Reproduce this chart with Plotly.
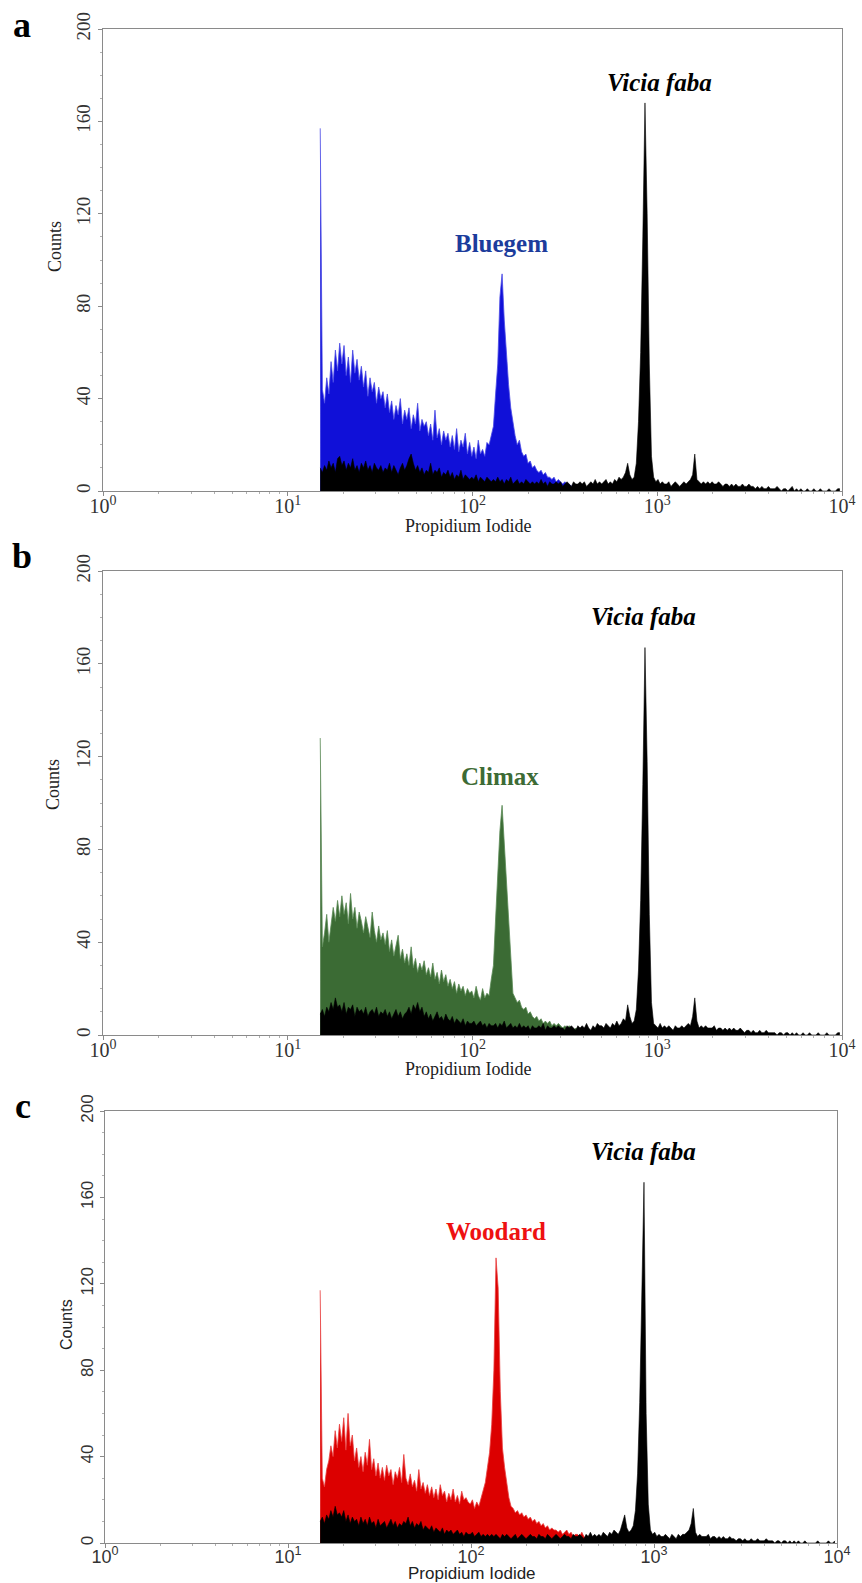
import plotly.graph_objects as go

# ---------------- data (flow-cytometry histograms, 1024-channel / 4-decade log scale) -------------
CH_COLOR = list(range(301, 698, 3))   # channels of sample histograms
CH_BLACK = list(range(301, 1022, 3))  # channels of Vicia faba standard histograms

BLUEGEM = [157, 44, 38, 49, 42, 56, 47, 61, 52, 64,
           55, 63, 50, 58, 47, 61, 51, 57, 48, 54,
           45, 52, 41, 49, 43, 47, 38, 45, 40, 43,
           36, 42, 34, 39, 31, 37, 33, 40, 29, 35,
           31, 36, 27, 33, 29, 38, 26, 31, 28, 30,
           24, 29, 22, 35, 23, 27, 20, 26, 22, 25,
           19, 24, 18, 27, 17, 22, 19, 25, 16, 21,
           15, 19, 14, 22, 16, 18, 15, 21, 20, 24,
           28, 42, 55, 84, 94, 74, 58, 46, 36, 29,
           24, 20, 22, 17, 15, 16, 12, 13, 10, 11,
           9, 8, 9, 7, 8, 6, 6, 5, 6, 4,
           5, 4, 3, 4, 3, 3, 2, 3, 2, 2,
           3, 2, 2, 1, 2, 1, 1, 1, 0, 1, 0, 0, 0]

CLIMAX = [128, 38, 44, 52, 40, 47, 55, 49, 58, 51,
          60, 52, 57, 48, 61, 50, 55, 46, 53, 49,
          44, 51, 47, 42, 53, 45, 40, 47, 41, 44,
          39, 45, 36, 41, 34, 38, 43, 33, 37, 31,
          35, 30, 38, 29, 33, 27, 31, 28, 32, 26,
          29, 25, 31, 24, 27, 22, 28, 23, 26, 21,
          24, 20, 23, 18, 22, 19, 21, 17, 20, 18,
          19, 16, 21, 17, 15, 20, 16, 18, 17, 24,
          30, 50, 72, 88, 99, 82, 68, 48, 30, 18,
          16, 14, 15, 12, 11, 12, 9, 10, 8, 7,
          8, 6, 7, 5, 6, 5, 6, 4, 5, 4,
          5, 4, 3, 4, 3, 4, 3, 2, 3, 2,
          3, 2, 2, 1, 2, 1, 1, 1, 0, 1, 0, 0, 0]

WOODARD = [117, 30, 26, 34, 38, 45, 40, 52, 44, 55,
           47, 58, 43, 60, 45, 50, 38, 44, 35, 40,
           33, 42, 36, 48, 34, 39, 31, 37, 30, 35,
           29, 36, 31, 34, 27, 33, 30, 35, 28, 41,
           30, 27, 32, 26, 29, 24, 34, 25, 28, 23,
           27, 22, 26, 21, 25, 20, 27, 22, 24, 19,
           23, 20, 25, 19, 22, 18, 24, 20, 21, 19,
           18, 20, 16, 19, 17, 21, 24, 28, 35, 42,
           55, 80, 132, 118, 70, 44, 35, 28, 21, 17,
           16, 14, 15, 13, 14, 12, 13, 11, 12, 10,
           11, 9, 10, 8, 9, 7, 8, 6, 7, 6,
           6, 5, 6, 4, 5, 6, 4, 5, 3, 4,
           4, 3, 5, 3, 2, 3, 4, 2, 2, 1, 1, 0, 0]

VICIA_A = [10, 8, 11, 9, 13, 10, 12, 8, 14, 15,
           11, 13, 9, 12, 10, 14, 9, 11, 8, 12,
           10, 13, 9, 11, 8, 12, 10, 9, 11, 8,
           10, 9, 12, 8, 11, 9, 7, 10, 12, 9,
           11, 14, 16, 12, 9, 11, 8, 10, 7, 9,
           8, 12, 7, 9, 8, 10, 6, 8, 7, 9,
           6, 8, 5, 7, 6, 9, 5, 7, 6, 5,
           6, 5, 7, 4, 6, 5, 4, 6, 5, 4,
           5, 4, 6, 4, 5, 3, 5, 4, 6, 3,
           4, 5, 3, 4, 3, 5, 4, 3, 4, 3,
           4, 3, 5, 3, 4, 2, 4, 3, 3, 4,
           3, 4, 2, 3, 4, 3, 2, 4, 3, 3,
           4, 3, 4, 2, 3, 4, 3, 5, 3, 4,
           3, 4, 5, 3, 4, 3, 5, 4, 6, 5,
           6, 8, 12, 7, 5, 6, 12, 30, 60, 110,
           168, 120, 55, 15, 6, 4, 5, 3, 4, 3,
           3, 4, 2, 3, 4, 3, 2, 3, 4, 3,
           4, 5, 7, 16, 5, 4, 3, 4, 3, 4,
           3, 4, 3, 3, 4, 3, 2, 3, 3, 2,
           3, 2, 3, 2, 2, 3, 2, 2, 3, 2,
           2, 1, 2, 1, 2, 1, 1, 2, 1, 1,
           1, 2, 1, 0, 1, 1, 0, 1, 2, 0,
           1, 0, 1, 0, 0, 1, 0, 0, 1, 0,
           0, 1, 0, 0, 0, 1, 0, 0, 0, 1,
           1]

VICIA_B = [9, 11, 8, 12, 10, 14, 11, 16, 12, 13,
           10, 14, 9, 12, 11, 13, 8, 12, 10, 11,
           9, 12, 8, 10, 11, 9, 12, 8, 10, 9,
           11, 8, 10, 7, 9, 11, 8, 10, 7, 9,
           10, 12, 9, 13, 11, 14, 10, 12, 8, 10,
           7, 9, 6, 8, 10, 7, 8, 6, 9, 7,
           6, 8, 5, 7, 6, 5, 7, 4, 6, 5,
           5, 6, 4, 5, 6, 4, 5, 3, 5, 4,
           4, 5, 3, 5, 4, 6, 3, 4, 5, 3,
           4, 3, 5, 3, 4, 3, 4, 2, 4, 3,
           3, 4, 3, 5, 2, 4, 3, 3, 4, 3,
           4, 3, 3, 2, 4, 3, 4, 3, 2, 4,
           3, 4, 3, 5, 3, 2, 4, 3, 5, 4,
           4, 3, 5, 4, 3, 5, 4, 6, 4, 5,
           7, 6, 13, 8, 5, 6, 11, 28, 58, 108,
           167, 118, 52, 14, 5, 4, 3, 5, 3, 4,
           3, 4, 3, 2, 4, 3, 3, 4, 3, 4,
           5, 4, 8, 16, 6, 3, 4, 3, 4, 3,
           3, 3, 4, 2, 3, 3, 2, 3, 2, 3,
           2, 3, 2, 2, 3, 2, 1, 2, 2, 1,
           2, 1, 1, 2, 1, 1, 2, 1, 1, 1,
           1, 0, 1, 1, 0, 1, 1, 0, 1, 0,
           1, 0, 0, 1, 0, 0, 1, 0, 0, 0,
           1, 0, 0, 0, 1, 0, 0, 0, 0, 1,
           1]

VICIA_C = [10, 12, 9, 13, 11, 15, 12, 17, 13, 14,
           12, 15, 10, 13, 9, 12, 10, 11, 8, 12,
           9, 11, 8, 12, 9, 10, 7, 11, 8, 9,
           10, 7, 9, 11, 8, 10, 7, 9, 8, 10,
           9, 12, 8, 10, 7, 9, 8, 10, 6, 8,
           7, 6, 8, 5, 7, 6, 5, 7, 4, 6,
           5, 6, 4, 5, 6, 4, 5, 3, 5, 4,
           4, 5, 3, 4, 5, 3, 4, 3, 4, 3,
           4, 3, 4, 3, 2, 4, 3, 4, 3, 2,
           3, 4, 2, 3, 4, 3, 2, 3, 4, 3,
           3, 2, 4, 3, 3, 2, 4, 3, 2, 3,
           4, 3, 2, 3, 4, 3, 3, 2, 4, 3,
           3, 4, 3, 2, 4, 3, 5, 3, 4, 3,
           4, 3, 5, 4, 3, 5, 4, 6, 5, 4,
           6, 9, 13, 7, 5, 6, 8, 15, 32, 65,
           120, 167, 60, 18, 6, 4, 5, 3, 4, 3,
           3, 4, 3, 2, 4, 3, 2, 4, 3, 4,
           4, 5, 6, 9, 16, 5, 3, 4, 3, 3,
           3, 4, 2, 3, 3, 2, 3, 2, 3, 2,
           2, 3, 2, 2, 1, 2, 2, 1, 2, 1,
           1, 2, 1, 1, 2, 1, 1, 1, 2, 1,
           1, 1, 0, 1, 1, 0, 1, 1, 0, 1,
           0, 1, 0, 1, 0, 0, 1, 0, 0, 0,
           0, 0, 1, 0, 0, 0, 0, 1, 0, 0,
           1]

for s in (BLUEGEM, CLIMAX, WOODARD):
    assert len(s) == len(CH_COLOR), len(s)
for s in (VICIA_A, VICIA_B, VICIA_C):
    assert len(s) == len(CH_BLACK), len(s)

SAMPLE_NAMES = ["Bluegem", "Climax", "Woodard"]
SAMPLE_COLORS = ["#1010d8", "#3b6b34", "#dc0000"]
SAMPLE_EDGES = ["#4a4ae6", "#5a8a55", "#e84040"]
LABEL_COLORS = ["#1c3c9c", "#3d6b35", "#ee1111"]
PANEL_LETTERS = ["a", "b", "c"]
STANDARD_NAME = "Vicia faba"
X_TITLE = "Propidium Iodide"
Y_TITLE = "Counts"
XTICK_VALS = [1, 10, 100, 1000, 10000]
XTICK_TEXT = ["10<sup>0</sup>", "10<sup>1</sup>", "10<sup>2</sup>", "10<sup>3</sup>", "10<sup>4</sup>"]
YTICK_VALS = [0, 40, 80, 120, 160, 200]


def to_pi(ch):
    # channel -> linear intensity on a 4-decade, 1024-channel log amplifier
    return 10 ** (ch / 256.0)


W, H = 862, 1583


def px(x):
    return x / W


def py(y):
    return 1 - y / H


# plot rectangles in screen pixels: (left, right, top, bottom)
PANELS = [(103, 842, 29, 491), (103, 842, 571, 1035), (105, 837, 1111, 1543)]
SERIF = "Liberation Serif, Times New Roman, serif"
SANS = "Liberation Sans, Arial, sans-serif"
FONTS = [SERIF, SERIF, SANS]

samples = [BLUEGEM, CLIMAX, WOODARD]
standards = [VICIA_A, VICIA_B, VICIA_C]

fig = go.Figure()
XMINOR = [m * 10 ** d for d in range(4) for m in range(2, 10)]

for i in range(3):
    xa = "x" if i == 0 else f"x{i+1}"
    ya = "y" if i == 0 else f"y{i+1}"
    fig.add_trace(go.Scatter(
        x=[to_pi(c) for c in CH_COLOR], y=samples[i], xaxis=xa, yaxis=ya,
        mode="lines", fill="tozeroy", fillcolor=SAMPLE_COLORS[i],
        line=dict(color=SAMPLE_EDGES[i], width=0.8), name=SAMPLE_NAMES[i],
        showlegend=False, hoverinfo="skip"))
    fig.add_trace(go.Scatter(
        x=[to_pi(c) for c in CH_BLACK], y=standards[i], xaxis=xa, yaxis=ya,
        mode="lines", fill="tozeroy", fillcolor="#000000",
        line=dict(color="#000000", width=0.6), name=STANDARD_NAME,
        showlegend=False, hoverinfo="skip"))

    l, r, t, b = PANELS[i]
    fam = FONTS[i]
    sans = fam == SANS
    xkey = "xaxis" if i == 0 else f"xaxis{i+1}"
    ykey = "yaxis" if i == 0 else f"yaxis{i+1}"
    fig.layout[xkey] = dict(
        domain=[px(l), px(r)], anchor=ya, type="log", range=[0, 4], automargin=False,
        showline=True, linecolor="#8a8a8a", linewidth=1, mirror=True,
        ticks="outside", ticklen=4, tickcolor="#8a8a8a",
        tickmode="array", tickvals=XTICK_VALS, ticktext=XTICK_TEXT,
        tickfont=dict(family=fam, size=18 if sans else 20, color="#333333"),
        ticklabelstandoff=-7,
        showgrid=False, zeroline=False,
        minor=dict(tickmode="array", tickvals=XMINOR, ticks="outside", ticklen=2,
                   tickcolor="#b0b0b0", showgrid=False))
    fig.layout[ykey] = dict(
        domain=[py(b), py(t)], anchor=xa, range=[0, 200], automargin=False,
        showline=True, linecolor="#8a8a8a", linewidth=1, mirror=True,
        ticks="outside", ticklen=4, tickcolor="#8a8a8a",
        tickmode="array", tickvals=YTICK_VALS, tickangle=-90,
        tickfont=dict(family=fam, size=17 if sans else 19, color="#333333"),
        showgrid=False, zeroline=False,
        minor=dict(dtick=10, ticks="outside", ticklen=2, tickcolor="#b0b0b0", showgrid=False))

annotations = []
letter_pos = [(22, 25), (22, 556), (23, 1106)]
ytitle_pos = [(55, 247), (53, 785), (66, 1325)]
xtitle_pos = [(468, 526), (468, 1069), (472, 1573)]
sample_pos = [(501, 244), (500, 776), (496, 1231)]
std_pos = [(659, 82), (643, 616), (643, 1151)]

for i in range(3):
    fam = FONTS[i]
    sans = fam == SANS
    annotations.append(dict(text=f"<b>{PANEL_LETTERS[i]}</b>", x=px(letter_pos[i][0]), y=py(letter_pos[i][1]),
                            xref="paper", yref="paper", showarrow=False, xanchor="center", yanchor="middle",
                            font=dict(family=SERIF, size=36, color="#000000")))
    annotations.append(dict(text=Y_TITLE, x=px(ytitle_pos[i][0]), y=py(ytitle_pos[i][1]), textangle=-90,
                            xref="paper", yref="paper", showarrow=False, xanchor="center", yanchor="middle",
                            font=dict(family=fam, size=16 if sans else 18, color="#222222")))
    annotations.append(dict(text=X_TITLE, x=px(xtitle_pos[i][0]), y=py(xtitle_pos[i][1]),
                            xref="paper", yref="paper", showarrow=False, xanchor="center", yanchor="middle",
                            font=dict(family=fam, size=17 if sans else 18, color="#222222")))
    annotations.append(dict(text=f"<b>{SAMPLE_NAMES[i]}</b>", x=px(sample_pos[i][0]), y=py(sample_pos[i][1]),
                            xref="paper", yref="paper", showarrow=False, xanchor="center", yanchor="middle",
                            font=dict(family=SERIF, size=25, color=LABEL_COLORS[i])))
    annotations.append(dict(text=f"<b><i>{STANDARD_NAME}</i></b>", x=px(std_pos[i][0]), y=py(std_pos[i][1]),
                            xref="paper", yref="paper", showarrow=False, xanchor="center", yanchor="middle",
                            font=dict(family=SERIF, size=25, color="#000000")))

fig.update_layout(
    width=W, height=H, autosize=False,
    margin=dict(l=0, r=0, t=0, b=0),
    paper_bgcolor="white", plot_bgcolor="white",
    showlegend=False, annotations=annotations)

fig.write_html("out.html", config={"displayModeBar": False},
               post_script="document.body.style.margin='0';document.body.style.overflow='hidden';")
